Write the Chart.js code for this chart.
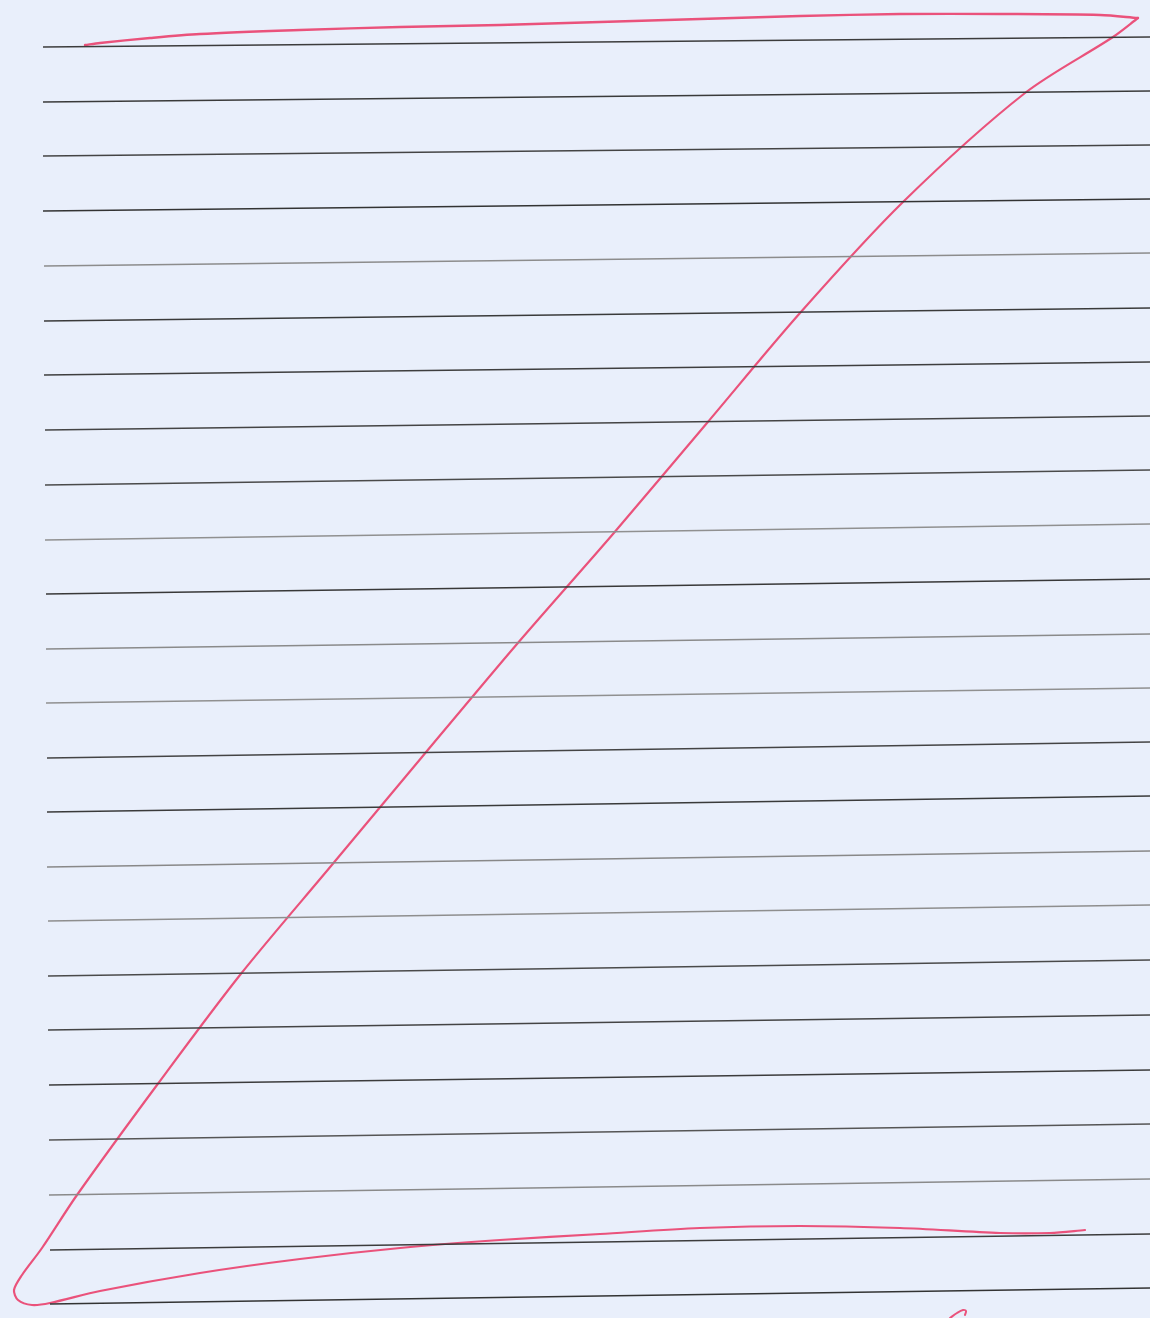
<!DOCTYPE html>
<html>
<head>
<meta charset="utf-8">
<script src="https://cdn.jsdelivr.net/npm/chart.js@4/dist/chart.umd.min.js"></script>
<style>
  html, body { margin: 0; padding: 0; background: #e9effb; }
  #wrap { width: 1150px; height: 1318px; }
</style>
</head>
<body>
<div id="wrap"><canvas id="sheet"></canvas></div>
<script>
// ruled lines: start x, y at left end, y at right end (x = 1150)
const ruleStartX = [43, 43, 43, 43, 44, 44, 44, 45, 45, 45, 46, 46, 46, 47, 47, 47, 48, 48, 48, 49, 49, 49, 50, 50];
const ruleLeftY  = [47, 102, 156, 211, 266, 321, 375, 430, 485, 540, 594, 649, 703, 758, 812, 867, 921, 976, 1030, 1085, 1140, 1195, 1250, 1304];
const ruleRightY = [37, 91, 145, 199, 253, 308, 362, 416, 470, 524, 579, 634, 688, 742, 796, 851, 905, 960, 1015, 1070, 1124, 1179, 1234, 1288];
const ruleShade  = ['#3c3c3c', '#3a3a3a', '#444', '#333', '#8c8c8c', '#3a3a3a', '#3e3e3e', '#444', '#4a4a4a', '#909090',
                    '#383838', '#8a8a8a', '#909090', '#444', '#3a3a3a', '#888', '#8e8e8e', '#4a4a4a', '#444', '#3c3c3c',
                    '#555', '#8a8a8a', '#3c3c3c', '#333'];

// the red "Z": top stroke
const topX = [85, 100, 150, 200, 300, 400, 500, 600, 700, 800, 900, 1000, 1100, 1138];
const topY = [45, 43, 38, 34, 30, 27, 25, 22, 19, 16, 14, 14, 15, 18];

// diagonal, bottom-left turn and bottom stroke
const diagX = [1138, 1113, 1025, 903, 800, 707, 613, 517, 422, 331, 240, 157, 77, 42, 22, 14, 18, 32, 50,
               100, 200, 300, 400, 500, 600, 700, 800, 900, 1000, 1050, 1085];
const diagY = [18, 37, 93, 202, 313, 423, 534, 644, 757, 866, 975, 1085, 1195, 1248, 1275, 1290, 1300, 1305, 1303,
               1291, 1273, 1259, 1248, 1240, 1234, 1228, 1226, 1228, 1233, 1233, 1230];

// small hook at the bottom edge
const hookX = [950, 957, 963, 966, 965];
const hookY = [1318, 1313, 1310, 1311, 1315];

const datasets = [];
ruleLeftY.forEach((y, i) => {
  datasets.push({
    data: [{ x: ruleStartX[i], y: y }, { x: 1150, y: ruleRightY[i] }],
    borderColor: ruleShade[i],
    borderWidth: 1.7,
    showLine: true,
    pointRadius: 0
  });
});

function stroke(xs, ys, width, tension) {
  return {
    data: xs.map((x, i) => ({ x: x, y: ys[i] })),
    borderColor: '#ea527b',
    borderWidth: width,
    borderCapStyle: 'round',
    borderJoinStyle: 'round',
    showLine: true,
    tension: tension,
    pointRadius: 0
  };
}
datasets.push(stroke(topX, topY, 2.4, 0.3));
datasets.push(stroke(diagX, diagY, 2.2, 0.3));
datasets.push(stroke(hookX, hookY, 2, 0.3));

new Chart(document.getElementById('sheet'), {
  type: 'scatter',
  data: { datasets: datasets },
  options: {
    responsive: true,
    maintainAspectRatio: false,
    animation: false,
    layout: { padding: 0 },
    plugins: { legend: { display: false }, tooltip: { enabled: false } },
    scales: {
      x: { display: false, min: 0, max: 1150 },
      y: { display: false, min: 0, max: 1318, reverse: true }
    }
  }
});
</script>
</body>
</html>
